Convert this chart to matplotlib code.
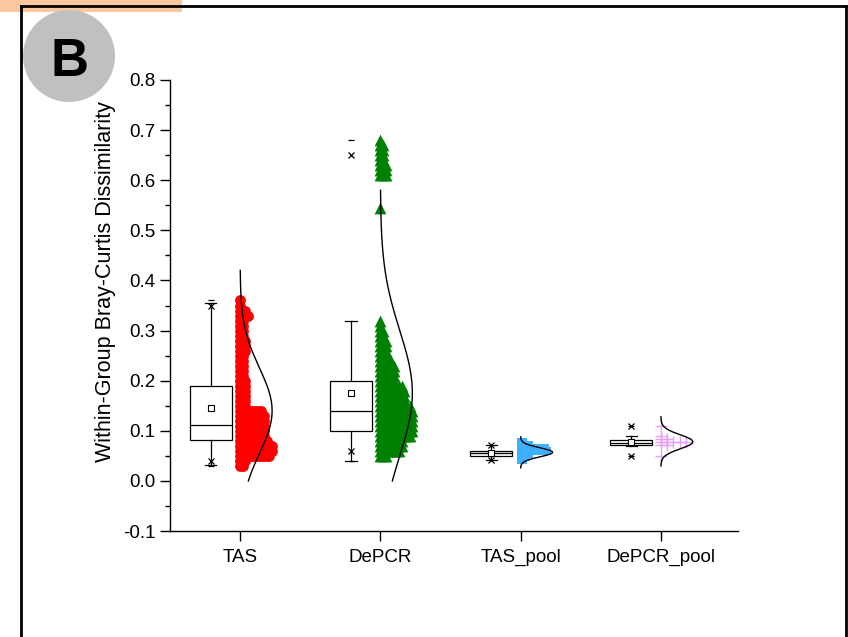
import numpy as np
import matplotlib
matplotlib.use("Agg")
import matplotlib.pyplot as plt
from matplotlib.patches import Ellipse, Rectangle

plt.rcParams['font.family'] = ['Liberation Sans', 'DejaVu Sans']

groups = ["TAS", "DePCR", "TAS_pool", "DePCR_pool"]

# box statistics per group
q1 = [0.082, 0.100, 0.050, 0.071]
med = [0.112, 0.140, 0.055, 0.076]
q3 = [0.190, 0.200, 0.060, 0.082]
mean = [0.146, 0.175, 0.055, 0.078]
whis_lo = [0.032, 0.040, 0.042, 0.070]
whis_hi = [0.355, 0.320, 0.072, 0.090]
p1 = [0.040, 0.060, 0.042, 0.050]
p99 = [0.350, 0.650, 0.072, 0.110]
vmin = [0.030, 0.040, 0.042, 0.050]
vmax = [0.360, 0.680, 0.072, 0.110]

# binned point counts (value, number of points in that row)
tas_y = [0.03, 0.04, 0.05, 0.06, 0.07, 0.08, 0.09, 0.10, 0.11, 0.12, 0.13, 0.14,
         0.15, 0.16, 0.17, 0.18, 0.19, 0.20, 0.21, 0.22, 0.23, 0.24, 0.25, 0.26,
         0.27, 0.28, 0.29, 0.30, 0.31, 0.32, 0.33, 0.34, 0.35, 0.36]
tas_n = [2, 3, 12, 13, 13, 11, 10, 10, 10, 10, 10, 9,
         3, 3, 3, 3, 3, 3, 2, 2, 2, 2, 2, 3,
         3, 3, 2, 2, 2, 2, 4, 3, 1, 1]

depcr_y = [0.05, 0.06, 0.07, 0.08, 0.09, 0.10, 0.11, 0.12, 0.13, 0.14, 0.15, 0.16,
           0.17, 0.18, 0.19, 0.20, 0.21, 0.22, 0.23, 0.24, 0.25, 0.26, 0.27, 0.28,
           0.29, 0.30, 0.31, 0.32, 0.545, 0.61, 0.62, 0.63, 0.64, 0.65, 0.66, 0.67, 0.68]
depcr_n = [3, 8, 9, 9, 12, 13, 13, 13, 13, 13, 12, 10,
           10, 10, 9, 6, 6, 6, 6, 5, 4, 3, 3, 3,
           2, 2, 1, 1, 1, 3, 3, 3, 2, 2, 2, 2, 1]

tas_pool_y = [0.042, 0.048, 0.054, 0.060, 0.066, 0.072, 0.077]
tas_pool_n = [2, 3, 4, 11, 10, 4, 2]

depcr_pool_y = [0.050, 0.072, 0.078, 0.084, 0.090, 0.110]
depcr_pool_n = [1, 2, 5, 2, 1, 1]

# fitted normal curves: mean, sd, drawn range
curve_mu = [0.140, 0.175, 0.057, 0.078]
curve_sd = [0.085, 0.125, 0.009, 0.014]
curve_lo = [0.000, 0.000, 0.026, 0.030]
curve_hi = [0.420, 0.580, 0.088, 0.128]

fig = plt.figure(figsize=(8.48, 6.37), dpi=100)
W, H = 848, 637
ax = fig.add_axes([170 / W, 106 / H, (738 - 170) / W, (531 - 80) / H])

pos = np.arange(1, 5)
box_off = -0.21

stats = []
for i in range(4):
    stats.append(dict(med=med[i], q1=q1[i], q3=q3[i], whislo=whis_lo[i],
                      whishi=whis_hi[i], mean=mean[i], fliers=[]))
ax.bxp(stats, positions=pos + box_off, widths=0.3, capwidths=0.08,
       showmeans=True, patch_artist=True,
       boxprops=dict(facecolor='white', edgecolor='black', linewidth=0.9),
       medianprops=dict(color='black', linewidth=0.9),
       whiskerprops=dict(color='black', linewidth=0.9),
       capprops=dict(color='black', linewidth=0.9),
       meanprops=dict(marker='s', markerfacecolor='white', markeredgecolor='black',
                      markersize=4.5, markeredgewidth=0.8))

ax.plot(pos + box_off, p1, 'x', color='black', ms=5, mew=0.9, zorder=4)
ax.plot(pos + box_off, p99, 'x', color='black', ms=5, mew=0.9, zorder=4)
ax.plot(pos + box_off, vmin, '_', color='black', ms=5, mew=0.9, zorder=4)
ax.plot(pos + box_off, vmax, '_', color='black', ms=5, mew=0.9, zorder=4)


def stack(x0, ys, ns, dx):
    xs, yy = [], []
    for y, n in zip(ys, ns):
        for k in range(n):
            xs.append(x0 + k * dx)
            yy.append(y)
    return xs, yy


x, y = stack(1, tas_y, tas_n, 0.019)
ax.scatter(x, y, s=60, marker='o', color='#FF0000', linewidths=0, zorder=2)
x, y = stack(2, depcr_y, depcr_n, 0.019)
ax.scatter(x, y, s=72, marker='^', color='#008000', linewidths=0, zorder=2)
x, y = stack(3, tas_pool_y, tas_pool_n, 0.019)
ax.scatter(x, y, s=40, marker='s', color='#3FB0FF', linewidths=0, zorder=2)
x, y = stack(4, depcr_pool_y, depcr_pool_n, 0.045)
ax.scatter(x, y, s=80, marker='+', color='#E6A0F5', linewidths=1.0, zorder=2)

# normal distribution curves to the right of each group
for i in range(4):
    yy = np.linspace(curve_lo[i], curve_hi[i], 200)
    dens = np.exp(-0.5 * ((yy - curve_mu[i]) / curve_sd[i]) ** 2)
    ax.plot(pos[i] + 0.228 * dens, yy, color='black', linewidth=1.0, zorder=5)

ax.set_xlim(0.5, 4.55)
ax.set_ylim(-0.1, 0.8)
ax.set_xticks(pos)
ax.set_xticklabels(groups, fontsize=13.5)
ax.set_yticks(np.arange(-0.1, 0.81, 0.1))
ax.set_yticklabels([f"{v:.1f}" for v in np.arange(-0.1, 0.81, 0.1)], fontsize=13.5)
ax.set_yticks(np.arange(-0.05, 0.8, 0.1), minor=True)
ax.tick_params(axis='both', which='major', direction='out', length=7, width=1.0, pad=3.5)
ax.tick_params(axis='x', which='major', pad=6)
ax.tick_params(axis='y', which='minor', direction='out', length=3.5, width=1.0)
ax.spines['top'].set_visible(False)
ax.spines['right'].set_visible(False)
for s in ('left', 'bottom'):
    ax.spines[s].set_linewidth(1.0)
ax.set_ylabel("Within-Group Bray-Curtis Dissimilarity", fontsize=15.5,
              va='center', ha='center')
ax.yaxis.set_label_coords(-0.114, 0.552)

# panel frame, tag and badge
frame = dict(color='black', linewidth=2.0, transform=fig.transFigure)
fig.add_artist(plt.Line2D([21 / W, 21 / W], [0, 1 - 6 / H], **frame))
fig.add_artist(plt.Line2D([21 / W, 846 / W], [1 - 6 / H, 1 - 6 / H], **frame))
fig.add_artist(plt.Line2D([846 / W, 846 / W], [0, 1 - 6 / H], **frame))
fig.add_artist(Rectangle((0, 1 - 12 / H), 182 / W, 12 / H, transform=fig.transFigure,
                         facecolor='#F59E58', alpha=0.57, edgecolor='none'))
fig.add_artist(Ellipse((69 / W, 1 - 56 / H), 92 / W, 92 / H, transform=fig.transFigure,
                       facecolor='#C0C0C0', edgecolor='none'))
fig.text(69 / W, 1 - 56 / H, "B", fontsize=38, fontweight='bold', ha='center',
         va='center_baseline', color='black')

fig.savefig("out.png", dpi=100)
